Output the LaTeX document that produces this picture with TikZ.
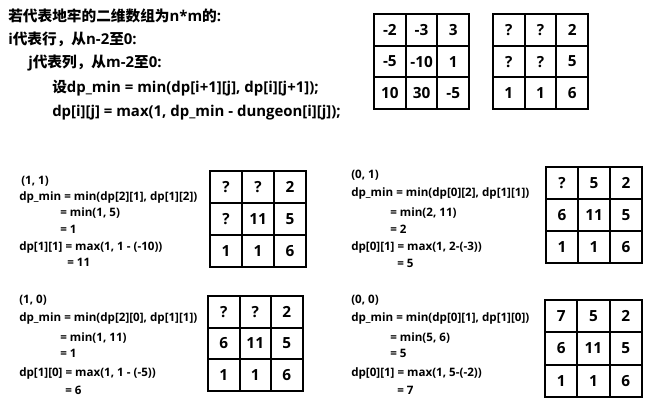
\documentclass[tikz,border=0pt]{standalone}
\usepackage{fontspec}
\setmainfont{Open Sans}
\newfontfamily\cjk{Noto Sans CJK SC}
\newcommand\zh[1]{{\cjk\fontsize{11}{13}\selectfont #1}}
% one 3x3 table of cells: name, left x, top y, cell size, entries
\newcommand\dpgrid[5]{%
  \foreach \v [count=\n from 0] in {#5} {
    \pgfmathtruncatemacro\rr{int(\n/3)}
    \pgfmathtruncatemacro\cc{mod(\n,3)}
    \node[cell, minimum size=#4*0.75pt] (#1-\rr\cc) at ({#2+(\cc+0.5)*#4},{#3+(\rr+0.5)*#4}) {\v};
  }
}
\tikzset{
  note/.style={anchor=west, inner sep=0pt, text height=8.5pt, text depth=2pt,
    font=\fontsize{11.2}{13}\selectfont\bfseries},
  steptext/.style={anchor=west, inner sep=0pt, text height=7pt, text depth=2pt,
    font=\fontsize{8.7}{10}\selectfont\bfseries},
  cell/.style={draw, line width=1.5pt, inner sep=0pt,
    font=\fontsize{11.5}{13}\selectfont\bfseries},
}
\begin{document}
\begin{tikzpicture}[x=0.75pt,y=-0.75pt]
\useasboundingbox (0,0) rectangle (661,404);

% the loop
\node[note] (l1) at (8,17) {\zh{若代表地牢的二维数组为}n*m\zh{的}:};
\node[note] (l2) at (8,40) {i\zh{代表行，从}n-2\zh{至}0:};
\node[note] (l3) at (28,63) {j\zh{代表列，从}m-2\zh{至}0:};
\node[note] (l4) at (52,88) {\zh{设}dp\_min = min(dp[i+1][j], dp[i][j+1]);};
\node[note] (l5) at (52,112) {dp[i][j] = max(1, dp\_min - dungeon[i][j]);};

% dungeon and dp table
\dpgrid{dungeon}{374}{14}{31.7}{-2,-3,3,-5,-10,1,10,30,-5}
\dpgrid{dpa}{493}{14}{31.7}{?,?,2,?,?,5,1,1,6}

% (1, 1)
\node[steptext] (a1) at (21,181) {(1, 1)};
\node[steptext] (a2) at (19,197) {dp\_min = min(dp[2][1], dp[1][2])};
\node[steptext] (a3) at (60,213) {= min(1, 5)};
\node[steptext] (a4) at (60,230) {= 1};
\node[steptext] (a5) at (19,247) {dp[1][1] = max(1, 1 - (-10))};
\node[steptext] (a6) at (67,263) {= 11};
\dpgrid{dpb}{210}{171}{32}{?,?,2,?,11,5,1,1,6}

% (0, 1)
\node[steptext] (b1) at (351,175) {(0, 1)};
\node[steptext] (b2) at (351,193) {dp\_min = min(dp[0][2], dp[1][1])};
\node[steptext] (b3) at (390,213) {= min(2, 11)};
\node[steptext] (b4) at (390,230) {= 2};
\node[steptext] (b5) at (351,247) {dp[0][1] = max(1, 2-(-3))};
\node[steptext] (b6) at (397,264) {= 5};
\dpgrid{dpc}{546}{167}{32}{?,5,2,6,11,5,1,1,6}

% (1, 0)
\node[steptext] (c1) at (19,300) {(1, 0)};
\node[steptext] (c2) at (19,318) {dp\_min = min(dp[2][0], dp[1][1])};
\node[steptext] (c3) at (60,338) {= min(1, 11)};
\node[steptext] (c4) at (60,354) {= 1};
\node[steptext] (c5) at (19,373) {dp[1][0] = max(1, 1 - (-5))};
\node[steptext] (c6) at (65,391) {= 6};
\dpgrid{dpd}{208}{296}{31.5}{?,?,2,6,11,5,1,1,6}

% (0, 0)
\node[steptext] (d1) at (351,300) {(0, 0)};
\node[steptext] (d2) at (351,318) {dp\_min = min(dp[0][1], dp[1][0])};
\node[steptext] (d3) at (390,338) {= min(5, 6)};
\node[steptext] (d4) at (390,354) {= 5};
\node[steptext] (d5) at (351,373) {dp[0][1] = max(1, 5-(-2))};
\node[steptext] (d6) at (397,391) {= 7};
\dpgrid{dpe}{545}{300}{32.3}{7,5,2,6,11,5,1,1,6}

\end{tikzpicture}
\end{document}
